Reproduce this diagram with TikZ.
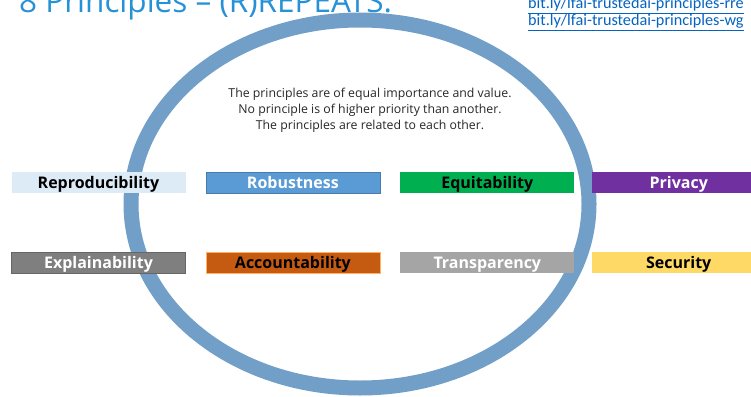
\documentclass[tikz,border=0pt]{standalone}
\usepackage{fontspec}
\setmainfont{Open Sans}
\newfontfamily\linkfont{Carlito}
\usetikzlibrary{positioning}

\definecolor{ringblue}{RGB}{114,159,199}
\definecolor{titleblue}{RGB}{38,145,214}
\definecolor{linkblue}{RGB}{5,99,193}
\definecolor{paleblue}{RGB}{221,235,247}
\definecolor{midblue}{RGB}{91,155,213}
\definecolor{okgreen}{RGB}{0,176,80}
\definecolor{violet}{RGB}{112,48,160}
\definecolor{slate}{RGB}{127,127,127}
\definecolor{rust}{RGB}{197,90,17}
\definecolor{silver}{RGB}{165,165,165}
\definecolor{butter}{RGB}{255,217,102}

\begin{document}
\begin{tikzpicture}[x=1pt,y=-1pt,node distance=20pt,
                    principle/.style={minimum width=174pt,minimum height=21pt,
                      inner sep=0pt,text height=11.5pt,text depth=0.5pt,
                      font=\fontsize{16}{16}\bfseries\selectfont},
                    link/.style={anchor=base west,inner sep=0pt,text=linkblue,
                      font=\linkfont\fontsize{16.2}{16.2}\selectfont},
                    ring/.style={draw=ringblue,line width=15pt}]

  \clip (0,0) rectangle (751,396);

  % title and links, cut by the page edge
  \node[anchor=base west,inner sep=0pt,text=titleblue,
        font=\fontsize{31.5}{31.5}\selectfont] (title) at (19,13)
        {8 Principles -- (R)REPEATS:};
  \node[link] (linka) at (528,9)  {\underline{bit.ly/lfai-trustedai-principles-rre}};
  \node[link] (linkb) at (528,26) {\underline{bit.ly/lfai-trustedai-principles-wg}};

  \draw[ring] (360,204) ellipse [x radius=229pt,y radius=184pt];

  \node[align=center,text=black!85,font=\fontsize{12.3}{16}\selectfont]
        (note) at (370,110)
        {The principles are of equal importance and value.\\
         No principle is of higher priority than another.\\
         The principles are related to each other.};

  \node[principle,fill=paleblue]                            (repro)   at (98.5,182.5) {Reproducibility};
  \node[principle,fill=midblue,draw=midblue!80!black,text=white] (robust)  [right=of repro]   {Robustness};
  \node[principle,fill=okgreen]                             (equit)   [right=of robust]  {Equitability};
  \node[principle,fill=violet,text=white]                   (privacy) [right=17pt of equit] {Privacy};

  \node[principle,fill=slate,draw=slate!80!black,text=white] (explain) [below=59pt of repro]   {Explainability};
  \node[principle,fill=rust,draw=orange!60]                 (account) [below=59pt of robust]  {Accountability};
  \node[principle,fill=silver,text=white]                   (transp)  [below=59pt of equit]   {Transparency};
  \node[principle,fill=butter]                              (secur)   [below=59pt of privacy] {Security};
\end{tikzpicture}
\end{document}
